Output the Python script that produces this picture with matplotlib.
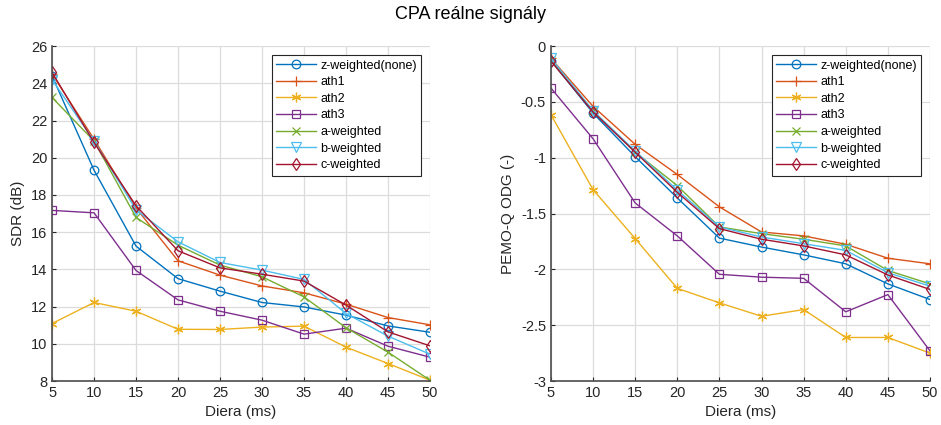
import matplotlib
matplotlib.use("Agg")
from matplotlib import pyplot as plt

# oneskorenie (ms)
diera = [5, 10, 15, 20, 25, 30, 35, 40, 45, 50]

nazvy = ["z-weighted(none)", "ath1", "ath2", "ath3", "a-weighted", "b-weighted", "c-weighted"]

# SDR (dB)
sdr_z = [24.4, 19.33, 15.25, 13.5, 12.83, 12.22, 11.98, 11.54, 10.96, 10.62]
sdr_ath1 = [24.5, 21.0, 17.3, 14.46, 13.69, 13.11, 12.74, 12.13, 11.41, 11.02]
sdr_ath2 = [11.09, 12.22, 11.75, 10.78, 10.77, 10.9, 10.95, 9.82, 8.94, 8.04]
sdr_ath3 = [17.17, 17.04, 13.94, 12.36, 11.75, 11.27, 10.52, 10.84, 9.87, 9.28]
sdr_a = [23.24, 20.9, 16.79, 15.3, 14.23, 13.6, 12.52, 10.86, 9.55, 8.04]
sdr_b = [24.2, 20.9, 17.2, 15.48, 14.37, 13.96, 13.46, 11.63, 10.41, 9.44]
sdr_c = [24.59, 20.82, 17.42, 15.0, 14.08, 13.74, 13.37, 12.08, 10.64, 9.89]

# PEMO-Q ODG (-)
odg_z = [-0.13, -0.6, -0.99, -1.36, -1.72, -1.8, -1.87, -1.95, -2.13, -2.27]
odg_ath1 = [-0.11, -0.54, -0.88, -1.15, -1.44, -1.665, -1.7, -1.775, -1.9, -1.95]
odg_ath2 = [-0.614, -1.286, -1.724, -2.17, -2.3, -2.42, -2.36, -2.61, -2.61, -2.75]
odg_ath3 = [-0.376, -0.83, -1.405, -1.7, -2.044, -2.07, -2.08, -2.38, -2.226, -2.73]
odg_a = [-0.12, -0.58, -0.95, -1.25, -1.62, -1.68, -1.73, -1.79, -2.01, -2.13]
odg_b = [-0.11, -0.58, -0.94, -1.29, -1.62, -1.71, -1.77, -1.83, -2.03, -2.15]
odg_c = [-0.134, -0.59, -0.95, -1.31, -1.635, -1.73, -1.79, -1.87, -2.05, -2.18]

farby = ["#0072BD", "#D95319", "#EDB120", "#7E2F8E", "#77AC30", "#4DBEEE", "#A2142F"]
# hviezdicka ako v matlabe (asterisk, nie star)
znacky = ["o", "+", (6, 2, 0), "s", "x", "v", "d"]
velkosti = [6.2, 7, 7, 6, 5.5, 6.5, 6.5]

plt.rcParams["font.family"] = ["Liberation Sans", "DejaVu Sans"]
plt.rcParams["font.size"] = 10

fig = plt.figure(figsize=(9.41, 4.25), dpi=100)
ax1 = fig.add_axes([0.0553, 0.1035, 0.4017, 0.788])
ax2 = fig.add_axes([0.5855, 0.1035, 0.4028, 0.788])


def kresli(ax, data, ylim, yticks, ylabel, fmt):
    for y, n, c, m, ms in zip(data, nazvy, farby, znacky, velkosti):
        ax.plot(diera, y, color=c, marker=m, markersize=ms, markerfacecolor="none",
                markeredgecolor=c, markeredgewidth=0.9, linewidth=1.0, label=n)
    ax.set_xlim(5, 50)
    ax.set_ylim(*ylim)
    ax.set_xticks(diera)
    ax.set_yticks(yticks)
    ax.set_yticklabels([fmt(v) for v in yticks])
    ax.grid(True, color="#dcdcdc", linewidth=0.9)
    ax.set_axisbelow(True)
    for s in ["top", "right"]:
        ax.spines[s].set_visible(False)
    for s in ["left", "bottom"]:
        ax.spines[s].set_color("#4d4d4d")
        ax.spines[s].set_linewidth(1.2)
    ax.tick_params(direction="in", length=3, colors="#262626", labelsize=10.5)
    ax.set_xlabel("Diera (ms)", fontsize=11, color="#262626")
    ax.set_ylabel(ylabel, fontsize=11, color="#262626")
    leg = ax.legend(loc="upper right", fontsize=9, handlelength=3.2, fancybox=False,
                    framealpha=1, edgecolor="#262626", borderpad=0.35, labelspacing=0.37,
                    handletextpad=0.32, borderaxespad=0, bbox_to_anchor=(0.976, 0.973))
    leg.get_frame().set_linewidth(0.8)


kresli(ax1, [sdr_z, sdr_ath1, sdr_ath2, sdr_ath3, sdr_a, sdr_b, sdr_c],
       (8, 26), list(range(8, 27, 2)), "SDR (dB)", lambda v: "%d" % v)
kresli(ax2, [odg_z, odg_ath1, odg_ath2, odg_ath3, odg_a, odg_b, odg_c],
       (-3, 0), [-3, -2.5, -2, -1.5, -1, -0.5, 0], "PEMO-Q ODG (-)", lambda v: "%g" % v)

fig.suptitle("CPA reálne signály", fontsize=13, y=0.985)

fig.savefig("out.png", dpi=100)
